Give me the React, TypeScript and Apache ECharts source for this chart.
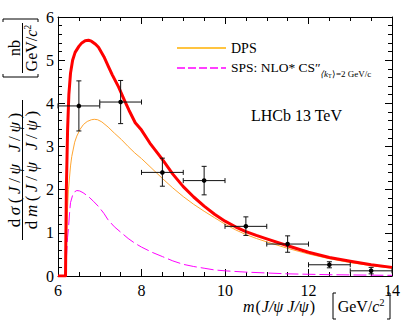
import React, { useEffect, useRef } from "react";
import * as echarts from "echarts";

// Total (red) curve
const totalX = [6.0, 6.18, 6.2, 6.23, 6.26, 6.3, 6.35, 6.41, 6.5, 6.57, 6.65, 6.73, 6.8, 6.9, 6.97, 7.1, 7.2, 7.3, 7.45, 7.6, 7.7, 7.85, 8.0, 8.2, 8.5, 8.75, 9.0, 9.25, 9.5, 9.75, 10.0, 10.25, 10.5, 10.75, 11.0, 11.5, 12.0, 12.5, 13.0, 13.5, 14.0];
const totalY = [0, 0, 2.0, 3.4, 4.2, 4.7, 5.0, 5.18, 5.32, 5.4, 5.45, 5.46, 5.44, 5.37, 5.3, 5.08, 4.87, 4.66, 4.38, 4.05, 3.84, 3.55, 3.38, 3.08, 2.7, 2.36, 2.07, 1.83, 1.62, 1.43, 1.27, 1.14, 1.03, 0.94, 0.86, 0.7, 0.55, 0.43, 0.34, 0.26, 0.2];

// DPS (orange) curve
const dpsX = [6.18, 6.2, 6.23, 6.25, 6.3, 6.33, 6.4, 6.45, 6.53, 6.61, 6.7, 6.8, 6.87, 6.95, 7.05, 7.2, 7.35, 7.52, 7.68, 7.84, 8.0, 8.25, 8.5, 8.75, 9.0, 9.25, 9.5, 9.75, 10.0, 10.25, 10.5, 10.75, 11.0, 11.5, 12.0, 12.5, 13.0, 13.5, 14.0];
const dpsY = [0, 0.8, 1.6, 2.0, 2.55, 2.77, 3.1, 3.24, 3.4, 3.51, 3.58, 3.62, 3.63, 3.62, 3.57, 3.45, 3.31, 3.16, 3.0, 2.85, 2.72, 2.49, 2.26, 2.04, 1.84, 1.66, 1.5, 1.35, 1.2, 1.07, 0.96, 0.87, 0.79, 0.64, 0.51, 0.4, 0.31, 0.24, 0.18];

// SPS (magenta) curve
const spsX = [6.18, 6.2, 6.23, 6.25, 6.28, 6.3, 6.35, 6.4, 6.45, 6.52, 6.6, 6.73, 6.85, 6.97, 7.1, 7.2, 7.35, 7.52, 7.68, 7.84, 8.0, 8.25, 8.5, 8.75, 9.0, 9.25, 9.5, 9.75, 10.0, 10.5, 11.0, 11.5, 12.0, 12.5, 13.0, 13.5, 14.0];
const spsY = [0, 0.4, 0.9, 1.1, 1.5, 1.7, 1.87, 1.95, 1.98, 1.97, 1.93, 1.84, 1.73, 1.61, 1.45, 1.3, 1.14, 1.0, 0.87, 0.76, 0.67, 0.55, 0.45, 0.35, 0.27, 0.22, 0.18, 0.14, 0.12, 0.09, 0.07, 0.05, 0.04, 0.03, 0.025, 0.02, 0.015];

// Measured points
const binCenter = [6.5, 7.5, 8.5, 9.5, 10.5, 11.5, 12.5, 13.5];
const binHalf = [0.5, 0.5, 0.5, 0.5, 0.5, 0.5, 0.5, 0.5];
const dataY = [3.94, 4.03, 2.4, 2.21, 1.15, 0.74, 0.26, 0.12];
const dataLo = [3.36, 3.53, 2.08, 1.88, 0.94, 0.55, 0.19, 0.05];
const dataHi = [4.52, 4.53, 2.73, 2.54, 1.37, 0.93, 0.33, 0.2];

const FONT = "Liberation Serif";

function pairs(xs: number[], ys: number[]) {
  return xs.map((x, i) => [x, ys[i]]);
}

function spaced(tokens: [string, string][]) {
  return tokens.map(([s, t]) => `{${s}|${t}}`).join("");
}

export default function App() {
  const ref = useRef<HTMLDivElement>(null);
  useEffect(() => {
    if (!ref.current) return;
    const chart = echarts.init(ref.current, null, { renderer: "svg" });
    const axisCommon = {
      axisLine: { show: true, onZero: false, lineStyle: { color: "#000", width: 1 } },
      axisTick: { show: true, inside: true, length: 7, lineStyle: { color: "#000" } },
      minorTick: { show: true, length: 4, lineStyle: { color: "#000" } },
      splitLine: { show: false },
      minorSplitLine: { show: false },
    };
    const pointData = binCenter.map((x, i) => [x, dataY[i], dataLo[i], dataHi[i], binHalf[i]]);
    const richY = {
      r: { fontFamily: FONT, fontSize: 17, color: "#000", padding: [0, 1.8] },
      i: { fontFamily: FONT, fontStyle: "italic", fontSize: 17, color: "#000", padding: [0, 1.8] },
      w: { fontFamily: FONT, fontSize: 17, color: "#000", padding: [0, 2] },
    };
    const yTok = (first: string): [string, string][] => [
      ["r", "d"], ["i", first], ["r", "("], ["i", "J"], ["r", "/"], ["i", "\u03C8"], ["w", " "],
      ["i", "J"], ["r", "/"], ["i", "\u03C8"], ["r", ")"],
    ];
    const option: any = {
      animation: false,
      backgroundColor: "#fff",
      grid: { left: 58, right: 20, top: 17, bottom: 53, containLabel: false },
      xAxis: [
        {
          type: "value", min: 6, max: 14, interval: 2, position: "bottom",
          ...axisCommon,
          minorTick: { ...axisCommon.minorTick, splitNumber: 4 },
          axisLabel: { color: "#000", fontFamily: FONT, fontSize: 16, margin: 6 },
        },
        {
          type: "value", min: 6, max: 14, interval: 2, position: "top",
          ...axisCommon,
          minorTick: { ...axisCommon.minorTick, splitNumber: 4 },
          axisLabel: { show: false },
        },
      ],
      yAxis: [
        {
          type: "value", min: 0, max: 6, interval: 1, position: "left",
          ...axisCommon,
          minorTick: { ...axisCommon.minorTick, splitNumber: 5 },
          axisLabel: { color: "#000", fontFamily: FONT, fontSize: 16, margin: 4 },
        },
        {
          type: "value", min: 0, max: 6, interval: 1, position: "right",
          ...axisCommon,
          minorTick: { ...axisCommon.minorTick, splitNumber: 5 },
          axisLabel: { show: false },
        },
      ],
      series: [
        {
          name: "SPS", type: "line", data: pairs(spsX, spsY), showSymbol: false,
          smooth: false,
          lineStyle: { color: "#ff00ff", width: 1, type: [13, 4] }, z: 2,
        },
        {
          name: "DPS", type: "line", data: pairs(dpsX, dpsY), showSymbol: false,
          smooth: false,
          lineStyle: { color: "#ffa530", width: 1 }, z: 3,
        },
        {
          name: "Total", type: "line", data: pairs(totalX, totalY), showSymbol: false,
          smooth: false,
          lineStyle: { color: "#ff0000", width: 3, join: "round" }, z: 4,
        },
        {
          name: "LHCb data", type: "custom", z: 10,
          data: pointData,
          encode: { x: 0, y: 1 },
          renderItem: (params: any, api: any) => {
            const x = api.value(0), y = api.value(1), lo = api.value(2), hi = api.value(3), hw = api.value(4);
            const c = api.coord([x, y]);
            const l = api.coord([x - hw, y]);
            const r = api.coord([x + hw, y]);
            const t = api.coord([x, hi]);
            const b = api.coord([x, lo]);
            const st = { stroke: "#111", lineWidth: 1 };
            const cap = 2.5;
            return {
              type: "group",
              children: [
                { type: "line", shape: { x1: l[0], y1: c[1], x2: r[0], y2: c[1] }, style: st },
                { type: "line", shape: { x1: c[0], y1: t[1], x2: c[0], y2: b[1] }, style: st },
                { type: "line", shape: { x1: l[0], y1: c[1] - cap, x2: l[0], y2: c[1] + cap }, style: st },
                { type: "line", shape: { x1: r[0], y1: c[1] - cap, x2: r[0], y2: c[1] + cap }, style: st },
                { type: "line", shape: { x1: c[0] - cap, y1: t[1], x2: c[0] + cap, y2: t[1] }, style: st },
                { type: "line", shape: { x1: c[0] - cap, y1: b[1], x2: c[0] + cap, y2: b[1] }, style: st },
                { type: "circle", shape: { cx: c[0], cy: c[1], r: 2.3 }, style: { fill: "#000" } },
              ],
            };
          },
        },
      ],
      graphic: [
        // Legend
        { type: "line", shape: { x1: 177, y1: 48, x2: 226, y2: 48 }, style: { stroke: "#ffb000", lineWidth: 1.5 } },
        { type: "text", x: 231, y: 48, style: { text: "DPS", font: `14px ${FONT}`, fill: "#000", verticalAlign: "middle" } },
        { type: "line", shape: { x1: 177, y1: 68, x2: 226, y2: 68 }, style: { stroke: "#ff00ff", lineWidth: 1.5, lineDash: [8, 3] } },
        { type: "text", x: 231, y: 67, style: { text: "SPS: NLO* CS\u2033", font: `13.5px ${FONT}`, fill: "#000", verticalAlign: "middle" } },
        { type: "text", x: 320, y: 73.5, style: { text: "\u27E8k", font: `italic 9px ${FONT}`, fill: "#000", verticalAlign: "middle" } },
        { type: "text", x: 328, y: 75.5, style: { text: "T", font: `6px ${FONT}`, fill: "#000", verticalAlign: "middle" } },
        { type: "text", x: 332, y: 73.5, style: { text: "\u27E9=2 GeV/c", font: `9px ${FONT}`, fill: "#000", verticalAlign: "middle" } },
        // LHCb label
        { type: "text", x: 251, y: 115, style: { text: "LHCb 13 TeV", font: `16px ${FONT}`, fill: "#000", verticalAlign: "middle" } },
        // X axis title
        {
          type: "text", x: 279, y: 306,
          style: {
            text: "{i|m}{r|(}{i|J/\u03C8 J/\u03C8}{r|)}",
            align: "center", verticalAlign: "middle",
            rich: {
              i: { fontFamily: FONT, fontStyle: "italic", fontSize: 16, color: "#000", padding: [0, 0.5] },
              r: { fontFamily: FONT, fontSize: 16, color: "#000", padding: [0, 0.5] },
            },
          },
        },
        {
          type: "text", x: 361, y: 306,
          style: {
            text: "{r|GeV/}{i|c}{s|2}",
            align: "center", verticalAlign: "middle",
            rich: {
              i: { fontFamily: FONT, fontStyle: "italic", fontSize: 16, color: "#000" },
              r: { fontFamily: FONT, fontSize: 16, color: "#000" },
              s: { fontFamily: FONT, fontSize: 10, color: "#000", verticalAlign: "top", padding: [0, 0, 8, 0] },
            },
          },
        },
        { type: "polyline", shape: { points: [[336, 293], [333, 293], [333, 319], [336, 319]] }, style: { stroke: "#000", lineWidth: 1, fill: "none" } },
        { type: "polyline", shape: { points: [[387, 293], [390, 293], [390, 319], [387, 319]] }, style: { stroke: "#000", lineWidth: 1, fill: "none" } },
        // Y axis title (rotated)
        {
          type: "group", x: 0, y: 170, rotation: Math.PI / 2,
          children: [
            {
              type: "text", x: 0, y: 14,
              style: { text: spaced(yTok("\u03C3")), align: "center", verticalAlign: "middle", rich: richY },
            },
            { type: "line", shape: { x1: -70, y1: 22.5, x2: 70, y2: 22.5 }, style: { stroke: "#000", lineWidth: 1 } },
            {
              type: "text", x: 0, y: 31,
              style: { text: spaced(yTok("m")), align: "center", verticalAlign: "middle", rich: richY },
            },
          ],
        },
        {
          type: "group", x: 0, y: 48, rotation: Math.PI / 2,
          children: [
            { type: "text", x: 0, y: 14, style: { text: "nb", font: `16px ${FONT}`, fill: "#000", align: "center", verticalAlign: "middle" } },
            { type: "line", shape: { x1: -25, y1: 22.5, x2: 25, y2: 22.5 }, style: { stroke: "#000", lineWidth: 1 } },
            {
              type: "text", x: 0, y: 31,
              style: {
                text: "{r|GeV/}{i|c}{s|2}",
                align: "center", verticalAlign: "middle",
                rich: {
                  i: { fontFamily: FONT, fontStyle: "italic", fontSize: 16, color: "#000" },
                  r: { fontFamily: FONT, fontSize: 16, color: "#000" },
                  s: { fontFamily: FONT, fontSize: 10, color: "#000", verticalAlign: "top", padding: [0, 0, 8, 0] },
                },
              },
            },
            { type: "polyline", shape: { points: [[-26, 3], [-29, 3], [-29, 38], [-26, 38]] }, style: { stroke: "#000", lineWidth: 1, fill: "none" } },
            { type: "polyline", shape: { points: [[26, 3], [29, 3], [29, 38], [26, 38]] }, style: { stroke: "#000", lineWidth: 1, fill: "none" } },
          ],
        },
      ],
    };
    chart.setOption(option);
    return () => chart.dispose();
  }, []);
  return (
    <div
      ref={ref}
      style={{ position: "fixed", left: 0, top: 0, width: 412, height: 329, background: "#fff" }}
    />
  );
}
